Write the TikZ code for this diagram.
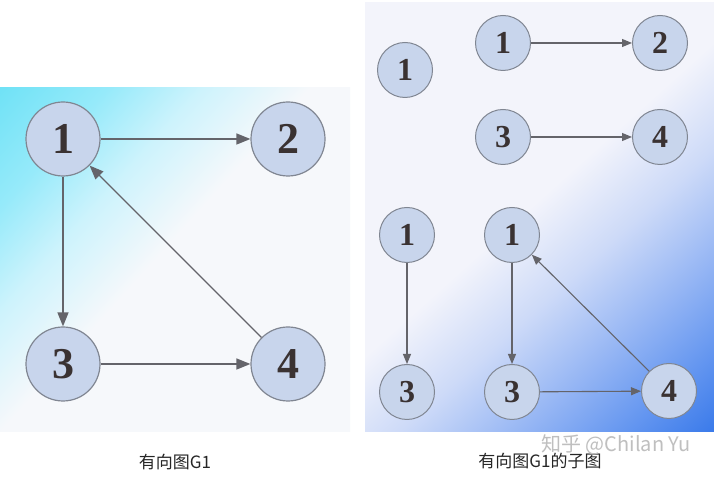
\documentclass[tikz,border=0pt]{standalone}
\usepackage{fontspec}
\setmainfont{Liberation Serif}
\newfontfamily\cjk{Noto Sans CJK SC}
\usetikzlibrary{arrows.meta}
\definecolor{cyanA}{RGB}{112,226,246}
\definecolor{cyanB}{RGB}{150,234,250}
\definecolor{cyanC}{RGB}{205,243,252}
\definecolor{lbase}{RGB}{246,248,251}
\definecolor{rbase}{RGB}{243,244,251}
\definecolor{blueA}{RGB}{58,122,234}
\definecolor{blueB}{RGB}{100,150,240}
\definecolor{blueC}{RGB}{150,182,244}
\definecolor{blueD}{RGB}{205,218,248}
\definecolor{nodefill}{RGB}{200,213,236}
\definecolor{nodeline}{RGB}{128,134,146}
\definecolor{digit}{RGB}{58,50,50}
\definecolor{edge}{RGB}{100,100,106}
\pgfdeclarehorizontalshading{leftbg}{100bp}{color(0bp)=(cyanA); color(25bp)=(cyanA); color(29bp)=(cyanB); color(32.5bp)=(cyanC); color(36.5bp)=(lbase); color(100bp)=(lbase)}
\pgfdeclarehorizontalshading{rightbg}{100bp}{color(0bp)=(rbase); color(60.5bp)=(rbase); color(64.5bp)=(blueD); color(68.5bp)=(blueC); color(72bp)=(blueB); color(75bp)=(blueA); color(100bp)=(blueA)}
\tikzset{
  bignode/.style={circle, fill=nodefill, draw=nodeline, line width=1.2pt, minimum size=74pt, inner sep=0pt, text=digit, font=\fontsize{44}{44}\selectfont\bfseries},
  smallnode/.style={circle, fill=nodefill, draw=nodeline, line width=1pt, minimum size=55pt, inner sep=0pt, text=digit, font=\fontsize{32}{32}\selectfont\bfseries},
  bigarrow/.style={draw=edge, line width=1.4pt, -{Triangle[length=14pt,width=11pt]}},
  smallarrow/.style={draw=edge, line width=1.1pt, -{Triangle[length=10pt,width=8pt]}},
  caption/.style={font=\cjk\fontsize{17}{17}\selectfont, text=black!85},
  watermark/.style={font=\cjk\fontsize{20}{20}\selectfont, text=black!25}
}
\begin{document}
\begin{tikzpicture}[x=1pt,y=1pt]
\fill[white] (0,0) rectangle (714,478);
\useasboundingbox (0,0) rectangle (714,478);
% left panel background
\begin{scope}
  \clip (0,46) rectangle (350,390);
  \shade[shading=leftbg, shading angle=-42] (-128.5,-444.5) rectangle (871.5,555.5);
\end{scope}
% right panel background
\begin{scope}
  \clip (365,46) rectangle (714,475);
  \shade[shading=rightbg, shading angle=-48] (-120.5,-82.5) rectangle (879.5,917.5);
\end{scope}
% left graph
\node[bignode] (L1) at (63,339) {1};
\node[bignode] (L2) at (288,339) {2};
\node[bignode] (L3) at (63,114) {3};
\node[bignode] (L4) at (288,114) {4};
\draw[bigarrow] (L1) -- (L2);
\draw[bigarrow] (L1) -- (L3);
\draw[bigarrow] (L3) -- (L4);
\draw[bigarrow] (L4) -- (L1);
% right subgraphs
\node[smallnode] (S1) at (405,408) {1};
\node[smallnode] (A1) at (503,435) {1};
\node[smallnode] (A2) at (660,435) {2};
\node[smallnode] (B3) at (503,341) {3};
\node[smallnode] (B4) at (660,341) {4};
\node[smallnode] (C1) at (407,243) {1};
\node[smallnode] (C3) at (407,86) {3};
\node[smallnode] (D1) at (512,243) {1};
\node[smallnode] (D3) at (512,86) {3};
\node[smallnode] (D4) at (669,87) {4};
\draw[smallarrow] (A1) -- (A2);
\draw[smallarrow] (B3) -- (B4);
\draw[smallarrow] (C1) -- (C3);
\draw[smallarrow] (D1) -- (D3);
\draw[smallarrow] (D3) -- (D4);
\draw[smallarrow] (D4) -- (D1);
% captions
\node[caption] (cap1) at (175,16) {有向图G1};
\node[caption] (cap2) at (540,17) {有向图G1的子图};
\node[watermark] (wm) at (616,33) {知乎 @Chilan Yu};
\end{tikzpicture}
\end{document}
